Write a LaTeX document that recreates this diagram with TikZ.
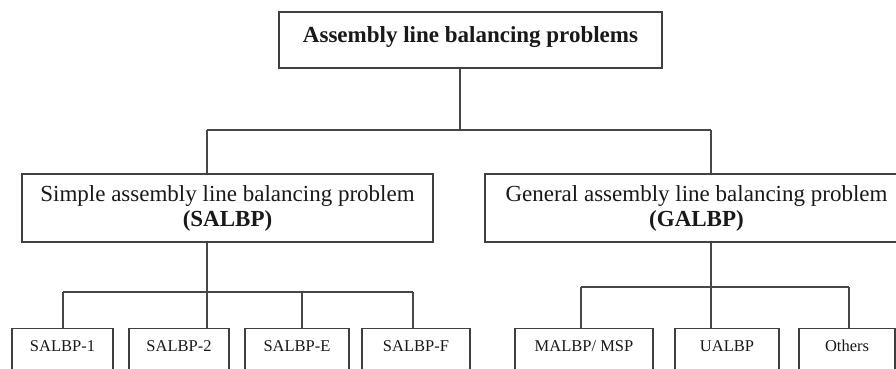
\documentclass[tikz,border=0pt]{standalone}
\usepackage{fontspec}
\setmainfont{Liberation Serif}
\begin{document}
\begin{tikzpicture}[x=1pt,y=-1pt,
  box/.style={draw=black!75,line width=1.4pt,inner sep=0pt,text=black!90,align=center},
  leaf/.style={box,anchor=north,font=\fontsize{16.5}{19}\selectfont,
    text height=17pt,text depth=40pt,inner ysep=6pt},
  link/.style={draw=black!72,line width=1.4pt}]
\useasboundingbox (0,0) rectangle (896,369);
\clip (0,0) rectangle (896,369);
\fill[white] (0,0) rectangle (896,369);

% root of the classification
\node[box,minimum width=383pt,font=\fontsize{23}{25}\selectfont\bfseries,
  text height=30pt,text depth=26pt] (top) at (470.5,40) {Assembly line balancing problems};

% two main families
\node[box,minimum width=411pt,minimum height=68pt,font=\fontsize{23}{25}\selectfont]
  (salbp) at (227.5,208) {Simple assembly line balancing problem\\\textbf{(SALBP)}};
\node[box,minimum width=423pt,minimum height=68pt,font=\fontsize{23}{25}\selectfont]
  (galbp) at (696.5,208) {General assembly line balancing problem\\\textbf{(GALBP)}};

% SALBP variants
\node[leaf,minimum width=101pt] (s1) at (62.5,328) {SALBP-1};
\node[leaf,minimum width=100pt] (s2) at (179,328) {SALBP-2};
\node[leaf,minimum width=104pt] (sE) at (297,328) {SALBP-E};
\node[leaf,minimum width=108pt] (sF) at (416,328) {SALBP-F};

% GALBP variants
\node[leaf,minimum width=138pt] (mal) at (584,328) {MALBP/ MSP};
\node[leaf,minimum width=104pt] (ual) at (727,328) {UALBP};
\node[leaf,minimum width=96pt] (oth) at (847,328) {Others};

% junction points of the tree
\coordinate (j0) at (460,130);
\coordinate (jl) at (207,130);
\coordinate (jr) at (711,130);
\coordinate (ka) at (63,292);
\coordinate (kb) at (207,292);
\coordinate (kc) at (302,292);
\coordinate (kd) at (413,292);
\coordinate (ma) at (581,287);
\coordinate (mb) at (711,287);
\coordinate (mc) at (849,287);

% first level
\draw[link] (top.south -| j0) -- (j0);
\draw[link] (jl) -- (jr);
\draw[link] (jl) -- (jl |- salbp.north);
\draw[link] (jr) -- (jr |- galbp.north);

% SALBP branch
\draw[link] (salbp.south -| kb) -- (kb);
\draw[link] (ka) -- (kd);
\draw[link] (ka) -- (ka |- s1.north);
\draw[link] (kb) -- (kb |- s2.north);
\draw[link] (kc) -- (kc |- sE.north);
\draw[link] (kd) -- (kd |- sF.north);

% GALBP branch
\draw[link] (galbp.south -| mb) -- (mb);
\draw[link] (ma) -- (mc);
\draw[link] (ma) -- (ma |- mal.north);
\draw[link] (mb) -- (mb |- ual.north);
\draw[link] (mc) -- (mc |- oth.north);
\end{tikzpicture}
\end{document}
